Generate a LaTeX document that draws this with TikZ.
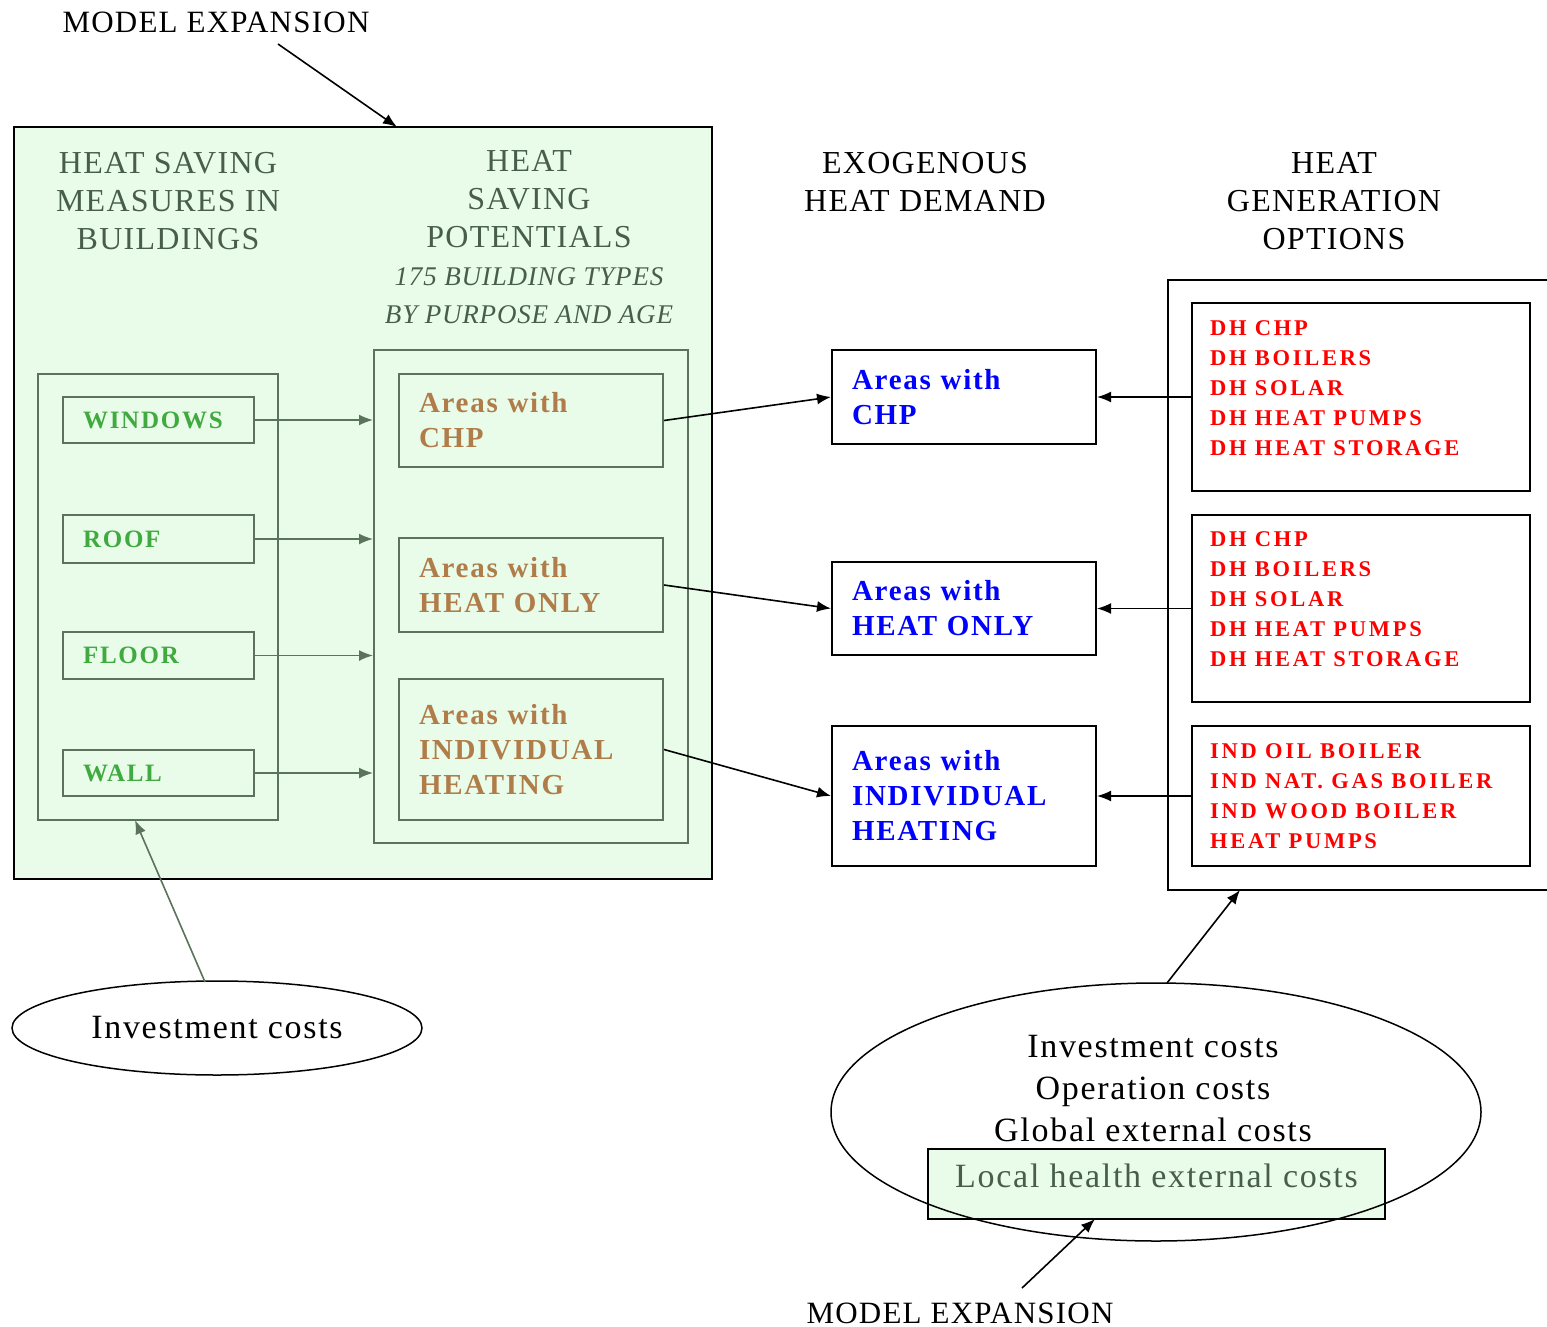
\documentclass[tikz,border=0pt]{standalone}
\usepackage{fontspec}
\setmainfont{Liberation Serif}
\usetikzlibrary{arrows.meta,shapes.geometric}
\definecolor{bgg}{HTML}{E9FCE9}
\definecolor{frameg}{HTML}{5A735A}
\definecolor{headg}{HTML}{475E48}
\definecolor{wing}{HTML}{40AA40}
\definecolor{brn}{HTML}{B07D4A}
\definecolor{blu}{HTML}{0000FF}
\definecolor{rd}{HTML}{FF0000}
\newfontfamily\fsHead[LetterSpace=4]{Liberation Serif}
\newfontfamily\fsItal[LetterSpace=3]{Liberation Serif}
\newfontfamily\fsArea[LetterSpace=6]{Liberation Serif}
\newfontfamily\fsSmall[LetterSpace=7]{Liberation Serif}
\newfontfamily\fsRed[LetterSpace=12]{Liberation Serif}
\newfontfamily\fsCost[LetterSpace=5]{Liberation Serif}
\newfontfamily\fsME[LetterSpace=4]{Liberation Serif}
\newcommand\fHead{\fsHead\fontsize{32pt}{38pt}\selectfont}
\newcommand\fItal{\fsItal\itshape\fontsize{27pt}{38pt}\selectfont}
\newcommand\fArea{\fsArea\bfseries\fontsize{29pt}{35pt}\selectfont}
\newcommand\fSmall{\fsSmall\bfseries\fontsize{25pt}{30pt}\selectfont}
\newcommand\fRed{\fsRed\bfseries\fontsize{22.5pt}{30pt}\selectfont}
\newcommand\fCost{\fsCost\fontsize{34pt}{42pt}\selectfont}
\newcommand\fME{\fsME\fontsize{31pt}{36pt}\selectfont}
\begin{document}
\begin{tikzpicture}[x=1pt,y=-1pt,
  sbox/.style={draw=frameg, line width=2pt, fill=bgg, anchor=north west, inner xsep=20pt, inner ysep=0pt, align=left},
  dbox/.style={draw=black, line width=2pt, fill=white, anchor=north west, inner xsep=20pt, inner ysep=0pt, align=left},
  frm/.style={draw=frameg, line width=2pt, anchor=north west, inner sep=0pt},
  arr/.style={-{Latex[length=14pt,width=11pt]}, line width=1.6pt, draw=black},
  garr/.style={-{Latex[length=14pt,width=11pt]}, line width=1.6pt, draw=frameg, fill=frameg},
  txt/.style={inner sep=0pt, align=center}]
\useasboundingbox (0,0) rectangle (1547,1327);
\clip (0,0) rectangle (1547,1327);
\fill[white] (0,0) rectangle (1547,1327);

% top label
\node[txt, font=\fME] (me1) at (216,22) {MODEL EXPANSION};
\coordinate (me1a) at (278,44);

% big green box
\node[draw=black, line width=2pt, fill=bgg, anchor=north west, minimum width=698pt, minimum height=752pt, inner sep=0pt] (big) at (13,126) {};
\coordinate (bigtop) at (397,127);
\draw[arr] (me1a) -- (bigtop);

\node[txt, text=headg, font=\fHead] (h1) at (168,201) {HEAT SAVING\\MEASURES IN\\BUILDINGS};
\node[txt, text=headg, font=\fHead] (h2) at (529,199) {HEAT\\SAVING\\POTENTIALS};
\node[txt, text=headg, font=\fItal] (h2i) at (529,296) {175 BUILDING TYPES\\BY PURPOSE AND AGE};

% frames
\node[frm, minimum width=240pt, minimum height=446pt] (lf) at (37,373) {};
\node[frm, minimum width=314pt, minimum height=493pt] (rf) at (373,349) {};

% measures
\node[sbox, text=wing, font=\fSmall, text width=151pt, minimum height=46pt] (win) at (62,396) {WINDOWS};
\node[sbox, text=wing, font=\fSmall, text width=151pt, minimum height=48pt] (roof) at (62,514) {ROOF};
\node[sbox, text=wing, font=\fSmall, text width=151pt, minimum height=47pt] (floor) at (62,631) {FLOOR};
\node[sbox, text=wing, font=\fSmall, text width=151pt, minimum height=46pt] (wall) at (62,749) {WALL};
\foreach \n in {win,roof,floor,wall}{\draw[garr] (\n.east) -- (\n.east -| rf.west);}

% potentials
\node[sbox, text=brn, font=\fArea, text width=224pt, minimum height=93pt] (aC) at (398,373) {Areas with\\CHP};
\node[sbox, text=brn, font=\fArea, text width=224pt, minimum height=94pt] (aH) at (398,537) {Areas with\\HEAT ONLY};
\node[sbox, text=brn, font=\fArea, text width=224pt, minimum height=141pt] (aI) at (398,678) {Areas with\\INDIVIDUAL\\HEATING};

% exogenous demand
\node[txt, font=\fHead] (h3) at (925,182) {EXOGENOUS\\HEAT DEMAND};
\node[dbox, text=blu, font=\fArea, text width=224pt, minimum height=94pt] (dC) at (831,349) {Areas with\\CHP};
\node[dbox, text=blu, font=\fArea, text width=224pt, minimum height=93pt] (dH) at (831,561) {Areas with\\HEAT ONLY};
\node[dbox, text=blu, font=\fArea, text width=224pt, minimum height=140pt] (dI) at (831,725) {Areas with\\INDIVIDUAL\\HEATING};

\draw[arr] (aC.east) -- (dC.west);
\draw[arr] (aH.east) -- (dH.west);
\draw[arr] (aI.east) -- (dI.west);

% generation options
\node[txt, font=\fHead] (h4) at (1334,201) {HEAT\\GENERATION\\OPTIONS};
\node[draw=black, line width=2pt, anchor=north west, minimum width=420pt, minimum height=610pt, inner sep=0pt] (gf) at (1167,279) {};
\node[draw=black, line width=2pt, anchor=north west, minimum width=338pt, minimum height=188pt, inner sep=0pt] (g1) at (1191,302) {};
\node[draw=black, line width=2pt, anchor=north west, minimum width=338pt, minimum height=187pt, inner sep=0pt] (g2) at (1191,514) {};
\node[draw=black, line width=2pt, anchor=north west, minimum width=338pt, minimum height=140pt, inner sep=0pt] (g3) at (1191,725) {};
\node[inner sep=0pt, anchor=north west, align=left, text=rd, font=\fRed] (g1t) at (1210,320) {DH CHP\\DH BOILERS\\DH SOLAR\\DH HEAT PUMPS\\DH HEAT STORAGE};
\node[inner sep=0pt, anchor=north west, align=left, text=rd, font=\fRed] (g2t) at (1210,531) {DH CHP\\DH BOILERS\\DH SOLAR\\DH HEAT PUMPS\\DH HEAT STORAGE};
\node[inner sep=0pt, anchor=north west, align=left, text=rd, font=\fRed] (g3t) at (1210,743) {IND OIL BOILER\\IND NAT. GAS BOILER\\IND WOOD BOILER\\HEAT PUMPS};
\draw[arr] (g1.west) -- (dC.east);
\draw[arr] (g2.west) -- (dH.east);
\draw[arr] (g3.west) -- (dI.east);

% left cost ellipse
\node[ellipse, draw=black, line width=1.5pt, minimum width=410pt, minimum height=94pt, inner sep=0pt, font=\fCost] (el1) at (217,1028) {Investment costs};
\coordinate (el1a) at (205,982);
\coordinate (lfb) at (135,820);
\draw[garr] (el1a) -- (lfb);

% right cost ellipse
\node[draw=black, line width=2pt, fill=bgg, anchor=north west, minimum width=457pt, minimum height=70pt, inner sep=0pt, text=headg, font=\fCost, text height=23pt, text depth=17pt] (lh) at (927,1148) {Local health external costs};
\node[ellipse, draw=black, line width=1.5pt, minimum width=650pt, minimum height=258pt, inner sep=0pt] (el2) at (1156,1112) {};
\node[txt, anchor=north, font=\fCost] (ct) at (1153,1035) {Investment costs\\Operation costs\\Global external costs};
\coordinate (el2a) at (1167,983);
\coordinate (gfb) at (1240,890);
\draw[arr] (el2a) -- (gfb);

% bottom label
\node[txt, font=\fME] (me2) at (960,1313) {MODEL EXPANSION};
\coordinate (me2a) at (1022,1288);
\coordinate (lhb) at (1095,1219);
\draw[arr] (me2a) -- (lhb);
\end{tikzpicture}
\end{document}
